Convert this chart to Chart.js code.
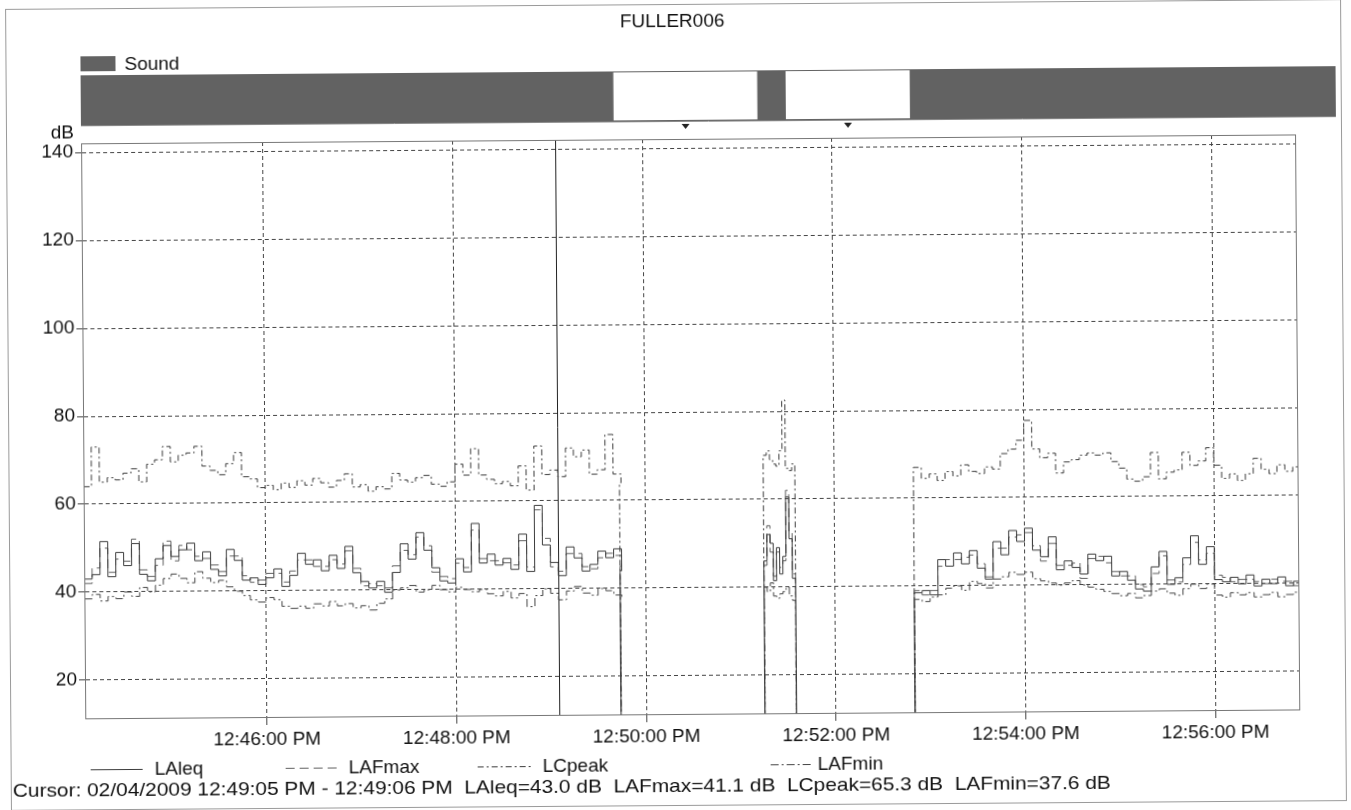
<!DOCTYPE html>
<html>
<head>
<meta charset="utf-8">
<script src="https://cdn.jsdelivr.net/npm/chart.js@4.4.1/dist/chart.umd.min.js"></script>
<style>
html,body{margin:0;padding:0;background:#fff;overflow:hidden;}
#wrap{width:1351px;height:810px;position:relative;background:#fff;}
canvas{position:absolute;left:0;top:0;transform:rotate(-0.42deg);transform-origin:675px 405px;}
</style>
</head>
<body>
<div id="wrap"><canvas id="c" width="1351" height="810"></canvas></div>
<script>
// ---------------- data ----------------
const chartTitle = 'FULLER006';
const seriesNames = ['LAleq', 'LAFmax', 'LCpeak', 'LAFmin'];
// time in seconds after 12:00:00 PM
const xMin = 2645, xMax = 3413;
const tickSeconds = [2760, 2880, 3000, 3120, 3240, 3360];
const tickLabels = ['12:46:00 PM', '12:48:00 PM', '12:50:00 PM', '12:52:00 PM', '12:54:00 PM', '12:56:00 PM'];
const yTicks = [20, 40, 60, 80, 100, 120, 140];
const yMin = 11.36, yMax = 142.05;
const cursorTime = 2945;
const cursorText = 'Cursor: 02/04/2009 12:49:05 PM - 12:49:06 PM  LAleq=43.0 dB  LAFmax=41.1 dB  LCpeak=65.3 dB  LAFmin=37.6 dB';
// sound-event gaps (start, end) in seconds
const soundGaps = [[2982, 3073], [3091, 3169.5]];

// segment 1: 12:44:05 PM, every 5 s
const seg1Start = 2645, seg1Step = 5, seg1End = 2984;
const seg1LAleq = [43,44,51.5,43.5,49,46,51,44,42.5,47.5,50.5,48,49.5,51,47,49,45,43.5,49.5,47,42.5,43,41.5,43,45,41,43.5,48.5,46,47,44.5,48,45,50,44,42,40.5,42,39.5,44,50.5,47,53,49,45,42,41.5,47,44,55,46,48,45.5,47,44.5,52.5,44,59,50,46,43,49.5,47,44,45.5,48.5,47,49,44];
const seg1LAFmax = [42,45.5,50,44.5,47.5,47,52,45,43.5,46,51.5,47,50.5,49.5,48,47.5,46,44.5,48,48,43.5,42,42.5,44,44,42,44.5,47,47,45.5,45.5,47,46,49,45,41,41.5,41,40.5,45.5,49,48,52,50,44,43,42.5,46,45,53.5,47,46.5,46.5,46,45.5,51,45,58,51.5,45,44,48,48,45,44.5,47,48,47.5,45];
const seg1LCpeak = [64,73,65,66,65.5,67,68,65,69,70,73,69.5,71,71.5,73,68.5,67.5,66.5,69,71.5,66,65.5,63.5,64,63,64.5,63.5,65,64,65.5,64.5,63.5,65,66.5,63.5,64,62.5,63.5,63,66.5,65,64.5,65.5,66,64,63.5,64.5,68.5,66,72,66,65,64,64.5,63.5,68,62.5,72.5,66,67,65.5,72,70,71.5,66,67,75,66,64];
const seg1LAFmin = [38.5,39.5,38,39,38.5,40,39,41,40,41.5,43,44,43,42,44.5,43,42,42.5,41,40,39,38,37.5,38.5,38,36.5,36,36.5,36,37,36.5,37.5,36.5,37,36,36.5,35.5,37,38,40,40.5,41,39.5,40,41,40,39.5,40.5,40,39.5,40,39,38.5,39.5,38,39,36,38.5,40,39,37.5,39.5,40.5,39,38.5,40,39.5,38.5,38];

// segment 2: 12:51:15 PM, every 2 s
const seg2Start = 3075, seg2Step = 2, seg2End = 3095;
const seg2LAleq = [46,52,50,41.5,49,43,47,60.5,51,42];
const seg2LAFmax = [45,54,48,42.5,48,44.5,46,62,52.5,43];
const seg2LCpeak = [70,71,69,68,67.5,71,82.5,67,66.5,68];
const seg2LAFmin = [40,39,41,38,37.5,38.5,39,40,38,37];

// segment 3: 12:52:50 PM, every 5 s
const seg3Start = 3170, seg3Step = 5;
const seg3LAleq = [38.5,39,38,46,44.5,47.5,45,48,44,41.5,50,47,52.5,50,53,48,46.5,51,43.5,45.5,44,42.5,47,45.5,46.5,42,43,41,39,38.5,44,47.5,40,41.5,46,51,44.5,48.5,41,40.5,41.5,40,42,39.5,41,40,41.5,39.5,40.5];
const seg3LAFmax = [39,38,39,44.5,46,46,46.5,47,45,42,48.5,48.5,51,51.5,52,49,45.5,49.5,44.5,44.5,45,41.5,46,46.5,45,43,42,42,40,39.5,42.5,46.5,41,40.5,44.5,49.5,45.5,47,42,41.5,40.5,41,41,40.5,40,41,40.5,40.5,39.5];
const seg3LCpeak = [67,64.5,65.5,64,66,65,67.5,66,65.5,67,66.5,70,71,73,77.5,71,69,70,65.5,68,68.5,69.5,70,69.5,70,68,66.5,64,63.5,64.5,70,64,65.5,66,70,67,68,71,67,64,65,63.5,65,68.5,66,65,67,65.5,66.5];
const seg3LAFmin = [37,36.5,37.5,38,39.5,40,39,41,40.5,39.5,41.5,42,43,42.5,43,41.5,41,40.5,40,40.5,41,40,39.5,39,38.5,38,37.5,38,37,37.5,38.5,39,38,37.5,39,40,39,40,37.5,37,38,37.5,38,37,37.5,38,37,37.5,38];

// ---------------- build ----------------
const DROP = 0; // recorder off: trace falls below the axis
const segments = [
  {start: seg1Start, step: seg1Step, end: seg1End, lead: false,
   v: {LAleq: seg1LAleq, LAFmax: seg1LAFmax, LCpeak: seg1LCpeak, LAFmin: seg1LAFmin}},
  {start: seg2Start, step: seg2Step, end: seg2End, lead: true,
   v: {LAleq: seg2LAleq, LAFmax: seg2LAFmax, LCpeak: seg2LCpeak, LAFmin: seg2LAFmin}},
  {start: seg3Start, step: seg3Step, end: null, lead: true,
   v: {LAleq: seg3LAleq, LAFmax: seg3LAFmax, LCpeak: seg3LCpeak, LAFmin: seg3LAFmin}}
];
function buildSeries(name) {
  const pts = [];
  segments.forEach(seg => {
    const vals = seg.v[name];
    if (seg.lead) pts.push({x: seg.start, y: DROP});
    vals.forEach((v, i) => pts.push({x: seg.start + i * seg.step, y: v}));
    if (seg.end !== null) {
      pts.push({x: seg.end, y: DROP});
      pts.push({x: seg.end + 0.5, y: null});
    } else {
      pts.push({x: xMax, y: vals[vals.length - 1]});
    }
  });
  return pts;
}

const styles = {
  LAleq:  {color: '#3c3c3c', dash: []},
  LAFmax: {color: '#606060', dash: [9, 5]},
  LCpeak: {color: '#3a3a3a', dash: [6, 3, 2, 3]},
  LAFmin: {color: '#444444', dash: [8, 3, 2, 3]}
};
const datasets = seriesNames.map(n => ({
  label: n,
  data: buildSeries(n),
  borderColor: styles[n].color,
  borderDash: styles[n].dash,
  borderWidth: 1,
  pointRadius: 0,
  stepped: true,
  spanGaps: false,
  fill: false
}));

const FONT = "'Liberation Sans', Arial, sans-serif";

const decor = {
  id: 'decor',
  beforeDraw(chart) {
    const ctx = chart.ctx, ca = chart.chartArea, xs = chart.scales.x;
    ctx.save();
    ctx.fillStyle = '#fff';
    ctx.fillRect(0, 0, chart.width, chart.height);
    // outer frame
    ctx.strokeStyle = '#9a9a9a';
    ctx.lineWidth = 1;
    ctx.strokeRect(8.5, 4.5, 1335, 801);
    // title
    ctx.fillStyle = '#111';
    ctx.font = '19px ' + FONT;
    ctx.textAlign = 'center';
    ctx.textBaseline = 'middle';
    ctx.fillText(chartTitle, 675, 22);
    // sound legend
    ctx.fillStyle = '#626262';
    ctx.fillRect(83, 52, 35, 15);
    ctx.fillStyle = '#111';
    ctx.textAlign = 'left';
    ctx.fillText('Sound', 127, 61);
    // sound bar
    const bx0 = ca.left, bx1 = chart.width - 13, by0 = 71, by1 = 121;
    ctx.fillStyle = '#626262';
    ctx.fillRect(bx0, by0, bx1 - bx0, by1 - by0);
    ctx.fillStyle = '#fff';
    soundGaps.forEach(g => {
      const a = xs.getPixelForValue(g[0]), b = xs.getPixelForValue(g[1]);
      ctx.fillRect(a, by0 + 1, b - a, by1 - by0 - 2);
    });
    ctx.strokeStyle = '#8a8a8a';
    ctx.beginPath();
    ctx.moveTo(bx0, by1 + 0.5); ctx.lineTo(bx1, by1 + 0.5);
    ctx.stroke();
    ctx.fillStyle = '#222';
    soundGaps.forEach(g => {
      const m = xs.getPixelForValue((g[0] + g[1]) / 2);
      ctx.beginPath();
      ctx.moveTo(m - 4, by1 + 3); ctx.lineTo(m + 4, by1 + 3); ctx.lineTo(m, by1 + 8);
      ctx.closePath(); ctx.fill();
    });
    // dB label
    ctx.fillStyle = '#111';
    ctx.textAlign = 'right';
    ctx.fillText('dB', 76, 129);
    ctx.restore();
  },
  afterDatasetsDraw(chart) {
    const ctx = chart.ctx, ca = chart.chartArea, xs = chart.scales.x;
    ctx.save();
    // cursor line
    const cx = Math.round(xs.getPixelForValue(cursorTime)) + 0.5;
    ctx.strokeStyle = '#222';
    ctx.lineWidth = 1;
    ctx.beginPath();
    ctx.moveTo(cx, ca.top); ctx.lineTo(cx, ca.bottom);
    ctx.stroke();
    // plot frame
    ctx.strokeStyle = '#777';
    ctx.strokeRect(Math.round(ca.left) + 0.5, Math.round(ca.top) + 0.5, Math.round(ca.right - ca.left), Math.round(ca.bottom - ca.top));
    ctx.restore();
  },
  afterDraw(chart) {
    const ctx = chart.ctx;
    ctx.save();
    ctx.font = '19px ' + FONT;
    ctx.textBaseline = 'middle';
    ctx.textAlign = 'left';
    const legendX = [[88, 140, 152], [283, 335, 346], [475, 530, 540], [768, 808, 815]];
    const ly = 765;
    seriesNames.forEach((n, i) => {
      const p = legendX[i];
      ctx.strokeStyle = styles[n].color;
      ctx.setLineDash(styles[n].dash);
      ctx.lineWidth = 1;
      ctx.beginPath();
      ctx.moveTo(p[0], ly + 0.5); ctx.lineTo(p[1], ly + 0.5);
      ctx.stroke();
      ctx.setLineDash([]);
      ctx.fillStyle = '#111';
      ctx.fillText(n, p[2], ly + 1);
    });
    // cursor read-out, stretched to the width it has in the print
    const w = ctx.measureText(cursorText).width;
    const sx = 1098 / w;
    ctx.translate(10, 787);
    ctx.scale(sx, 1);
    ctx.fillText(cursorText, 0, 0);
    ctx.restore();
  }
};

new Chart(document.getElementById('c'), {
  type: 'line',
  data: {datasets},
  plugins: [decor],
  options: {
    responsive: false,
    animation: false,
    events: [],
    layout: {padding: {top: 139, right: 54, bottom: 0, left: 0}},
    plugins: {legend: {display: false}, tooltip: {enabled: false}, title: {display: false}},
    scales: {
      x: {
        type: 'linear', min: xMin, max: xMax,
        afterBuildTicks: axis => { axis.ticks = tickSeconds.map(v => ({value: v})); },
        afterFit: axis => { axis.height = 96; },
        ticks: {
          autoSkip: false, maxRotation: 0, minRotation: 0, padding: 3,
          color: '#111', font: {family: FONT, size: 19},
          callback: v => tickLabels[tickSeconds.indexOf(v)]
        },
        grid: {color: '#444', lineWidth: 1, tickLength: 8, tickColor: '#444', drawOnChartArea: true},
        border: {display: true, color: '#777', dash: [4, 3]}
      },
      y: {
        type: 'linear', min: yMin, max: yMax,
        afterBuildTicks: axis => { axis.ticks = yTicks.map(v => ({value: v})); },
        afterFit: axis => { axis.width = 83; },
        ticks: {padding: 2, color: '#111', font: {family: FONT, size: 19}},
        grid: {color: '#444', lineWidth: 1, tickLength: 6, tickColor: '#444'},
        border: {display: true, color: '#777', dash: [4, 3]}
      }
    }
  }
});
</script>
</body>
</html>
